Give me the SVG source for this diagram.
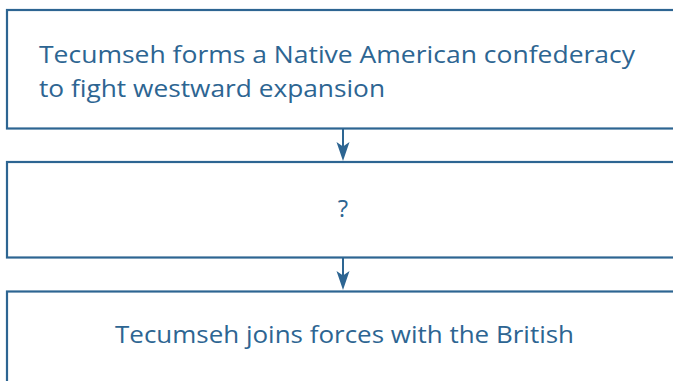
<svg xmlns="http://www.w3.org/2000/svg" width="673" height="381" viewBox="0 0 673 381">
  <defs>
    <style>
      .box { fill: #ffffff; stroke: #2d6592; stroke-width: 2.2; }
      .label { font-family: "Open Sans", Lato, sans-serif; font-size: 24px; fill: #2d6592; }
      .link { stroke: #2d6592; stroke-width: 2; fill: none; }
      .head { fill: #2d6592; }
    </style>
  </defs>
  <rect width="673" height="381" fill="#ffffff"/>

  <g id="connectors">
    <line class="link" x1="343" y1="129" x2="343" y2="150"/>
    <path class="head" d="M336.5,142 L343,146.5 L349.5,142 L343,161 Z"/>
    <line class="link" x1="343" y1="258" x2="343" y2="279"/>
    <path class="head" d="M336.5,271 L343,275.5 L349.5,271 L343,290 Z"/>
  </g>

  <g id="node-confederacy">
    <rect class="box" x="7" y="10" width="680" height="118.5"/>
    <text class="label" x="39" y="63" textLength="596" lengthAdjust="spacingAndGlyphs">Tecumseh forms a Native American confederacy</text>
    <text class="label" x="39" y="97" textLength="346" lengthAdjust="spacingAndGlyphs">to fight westward expansion</text>
  </g>

  <g id="node-unknown">
    <rect class="box" x="7" y="162" width="680" height="95.5"/>
    <text class="label" x="343" y="216.5" text-anchor="middle">?</text>
  </g>

  <g id="node-british">
    <rect class="box" x="7" y="291.5" width="680" height="110"/>
    <text class="label" x="344.5" y="343" text-anchor="middle" textLength="459" lengthAdjust="spacingAndGlyphs">Tecumseh joins forces with the British</text>
  </g>
</svg>
